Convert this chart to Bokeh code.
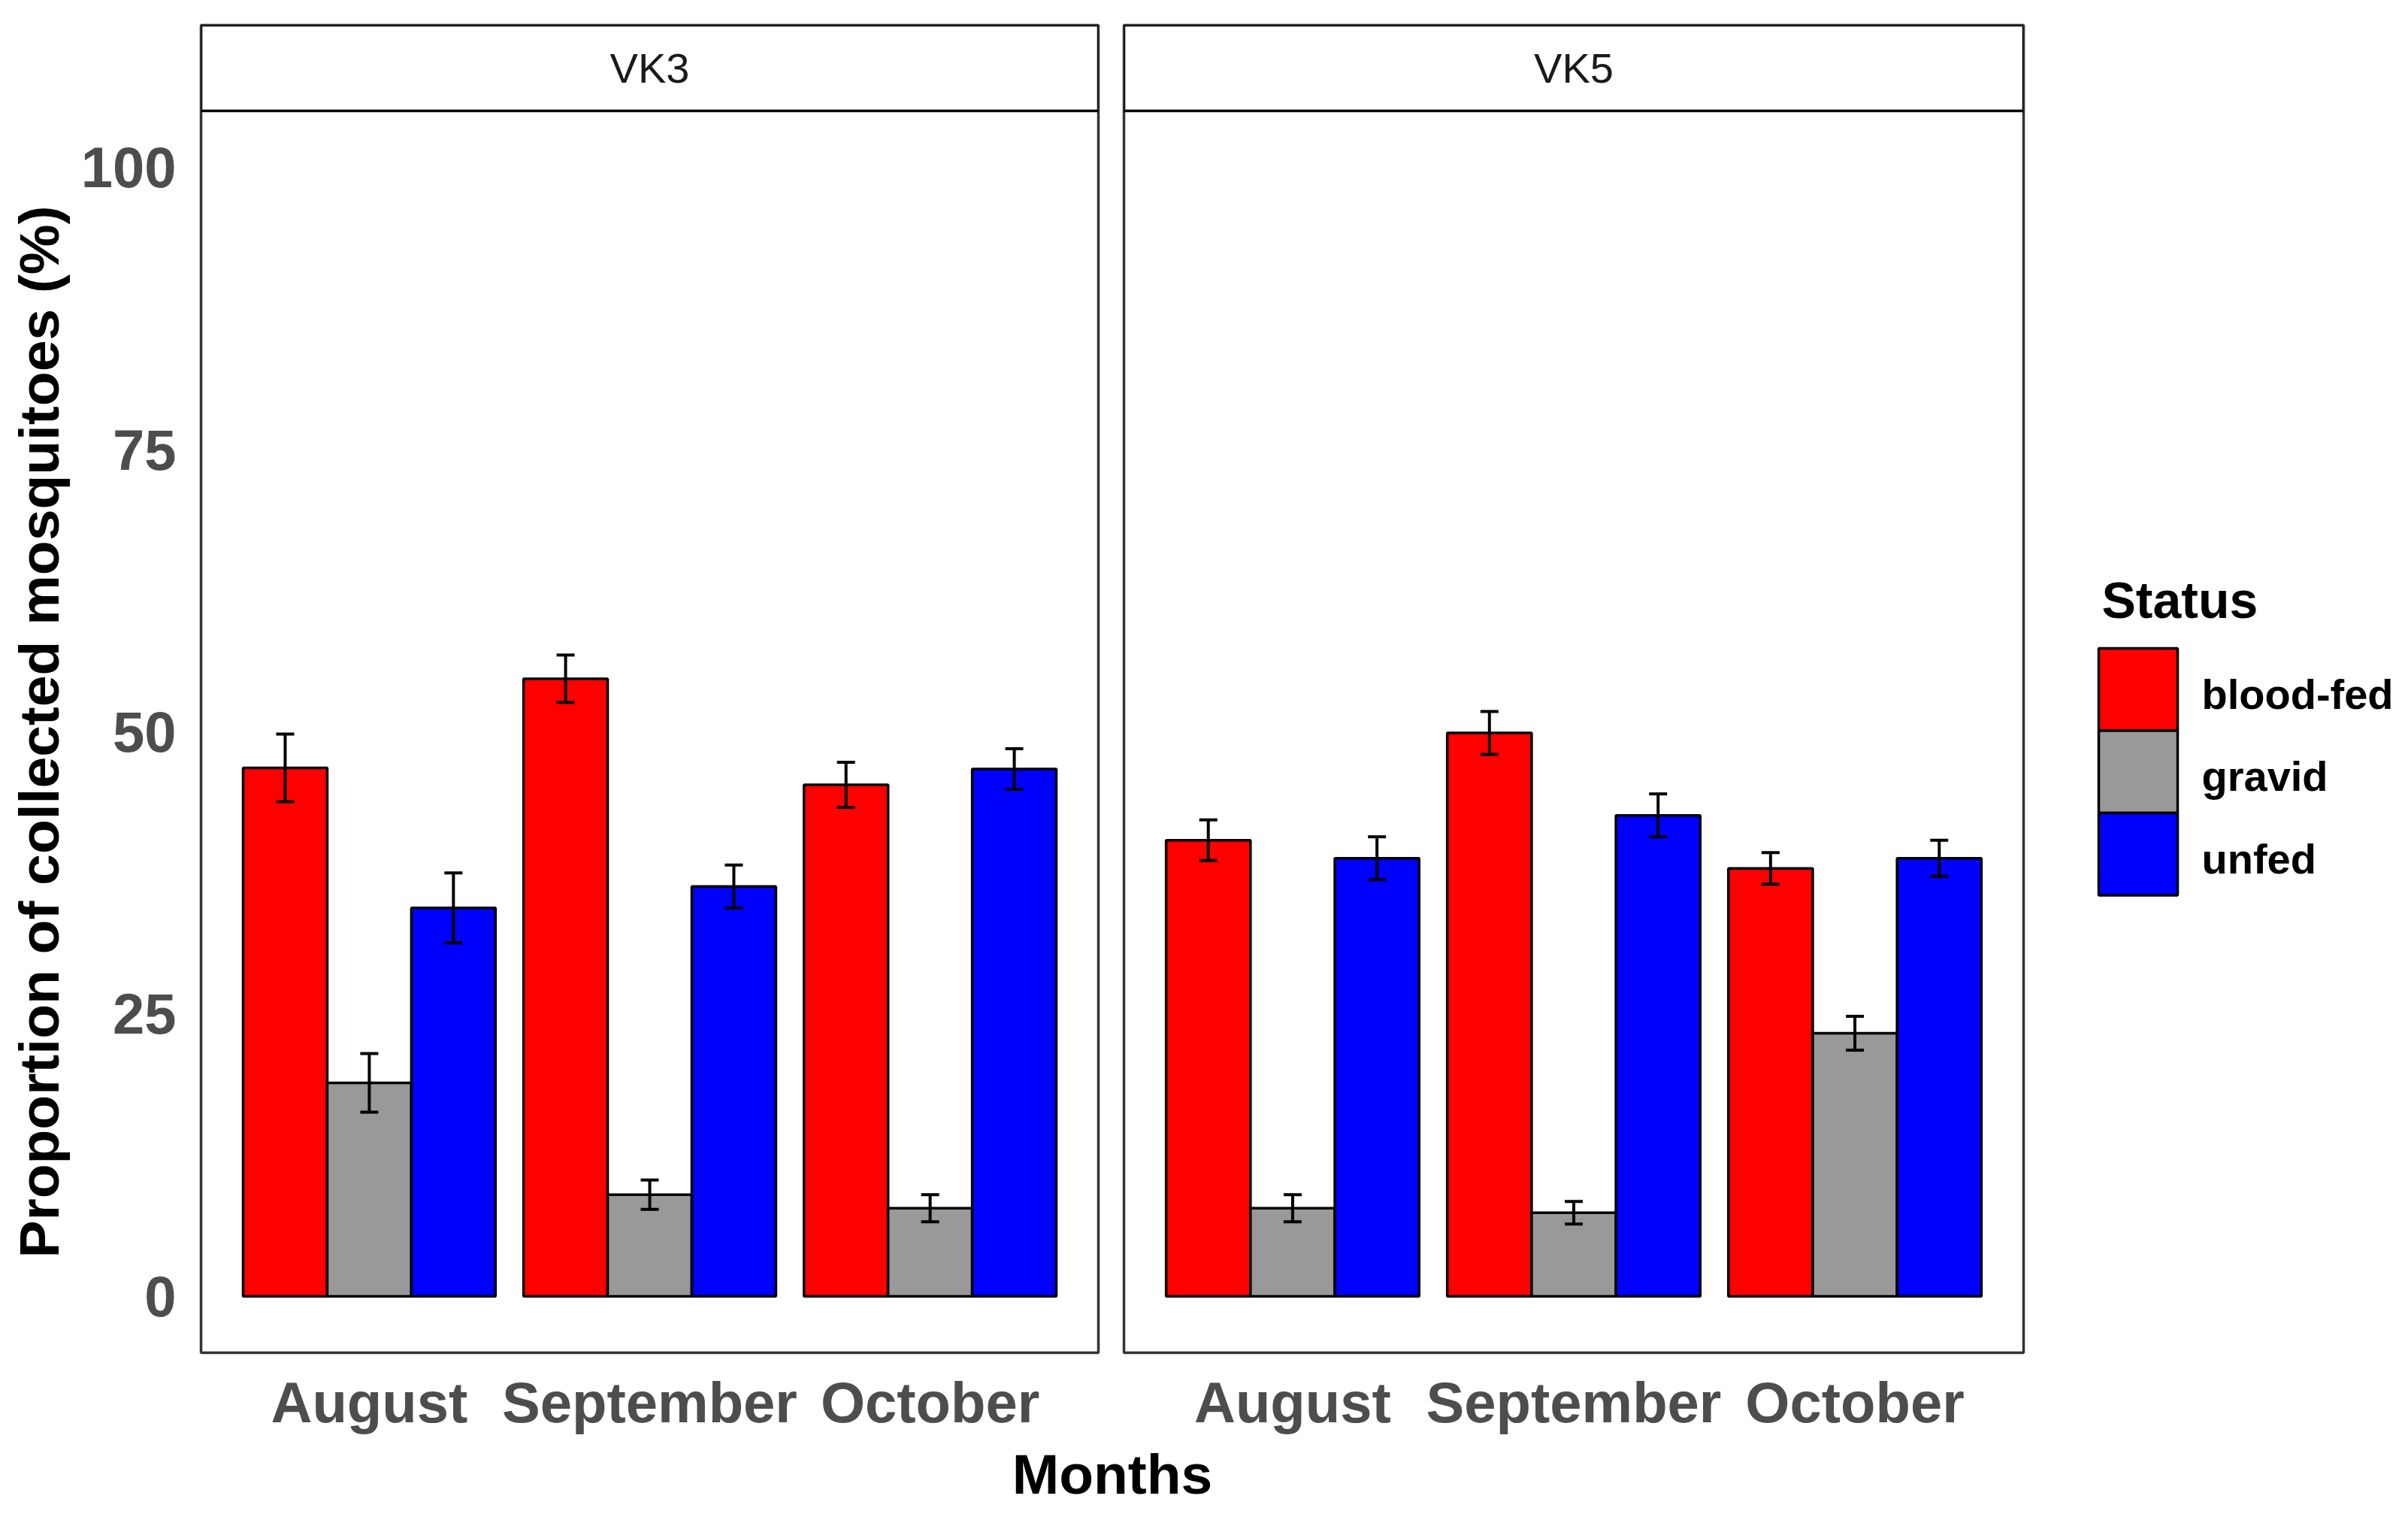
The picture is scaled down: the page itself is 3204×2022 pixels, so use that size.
import math
from bokeh.plotting import figure
from bokeh.models import (ColumnDataSource, FactorRange, Range1d, FixedTicker,
                          BoxAnnotation, Label, Whisker, TeeHead)
from bokeh.transform import dodge
from bokeh.layouts import row, column
from bokeh.embed import file_html
from bokeh.resources import INLINE
from bokeh.core.properties import value

# ---------------- data ----------------
months = ["August", "September", "October"]
statuses = ["blood-fed", "gravid", "unfed"]
sites = ["VK3", "VK5"]
status_colors = ["#FF0000", "#999999", "#0000FF"]
y_ticks = [0, 25, 50, 75, 100]

vk3_bloodfed = [46.8, 54.7, 45.3]
vk3_bloodfed_se = [3.0, 2.1, 2.0]
vk3_gravid = [18.9, 9.0, 7.8]
vk3_gravid_se = [2.6, 1.3, 1.2]
vk3_unfed = [34.4, 36.3, 46.7]
vk3_unfed_se = [3.1, 1.9, 1.8]

vk5_bloodfed = [40.4, 49.9, 37.9]
vk5_bloodfed_se = [1.8, 1.9, 1.4]
vk5_gravid = [7.8, 7.4, 23.3]
vk5_gravid_se = [1.2, 1.0, 1.5]
vk5_unfed = [38.8, 42.6, 38.8]
vk5_unfed_se = [1.9, 1.9, 1.6]

site_values = {
    "VK3": ([vk3_bloodfed, vk3_gravid, vk3_unfed], [vk3_bloodfed_se, vk3_gravid_se, vk3_unfed_se]),
    "VK5": ([vk5_bloodfed, vk5_gravid, vk5_unfed], [vk5_bloodfed_se, vk5_gravid_se, vk5_unfed_se]),
}

# ---------------- styling / layout ----------------
FONT = "Liberation Sans"
ROW_H = 1917
MB_TOP, MB_BOTTOM = 33, 118
Y_LO, Y_HI = -5, 105
STRIP_TOP = 112.59
BAR_W = 0.3
OFFSETS = [-0.3, 0.0, 0.3]
LW = 3.5


def make_panel(site, width, mb_left, mb_right, show_y):
    vals, ses = site_values[site]
    p = figure(width=width, height=ROW_H,
               x_range=FactorRange(factors=months, range_padding=0.1,
                                   range_padding_units="absolute"),
               y_range=Range1d(Y_LO, STRIP_TOP),
               y_axis_location="left" if show_y else None,
               output_backend="svg", toolbar_location=None,
               min_border_left=mb_left, min_border_right=mb_right,
               min_border_top=MB_TOP, min_border_bottom=MB_BOTTOM)
    p.xgrid.visible = False
    p.ygrid.visible = False
    p.outline_line_color = "#333333"
    p.outline_line_width = LW
    p.background_fill_color = "white"

    for vals_s, ses_s, color, off in zip(vals, ses, status_colors, OFFSETS):
        src = ColumnDataSource(dict(
            month=months, value=vals_s,
            upper=[v + s for v, s in zip(vals_s, ses_s)],
            lower=[v - s for v, s in zip(vals_s, ses_s)]))
        p.vbar(x=dodge("month", off, range=p.x_range), top="value", bottom=0,
               width=BAR_W, source=src, fill_color=color, line_color="black",
               line_width=LW)
        w = Whisker(source=src, base=dodge("month", off, range=p.x_range),
                    upper="upper", lower="lower", line_color="black", line_width=4,
                    upper_head=TeeHead(size=24, line_width=4, line_color="black"),
                    lower_head=TeeHead(size=24, line_width=4, line_color="black"),
                    level="annotation")
        p.add_layout(w)

    # facet strip
    strip = BoxAnnotation(bottom=Y_HI, top=STRIP_TOP, fill_color="white", fill_alpha=1.0,
                          line_color="black", line_alpha=1.0, line_width=LW,
                          level="overlay")
    p.add_layout(strip)
    p.add_layout(Label(x=1.5, y=(Y_HI + STRIP_TOP) / 2, text=site,
                       text_align="center", text_baseline="middle",
                       text_font=FONT, text_font_size="56px", text_color="#1A1A1A",
                       level="overlay"))

    # x axis
    p.xaxis.major_tick_line_color = None
    p.xaxis.minor_tick_line_color = None
    p.xaxis.axis_line_color = None
    p.xaxis.major_tick_out = 0
    p.xaxis.major_tick_in = 0
    p.xaxis.major_label_standoff = 23
    p.xaxis.major_label_text_font = FONT
    p.xaxis.major_label_text_font_size = "76px"
    p.xaxis.major_label_text_font_style = "bold"
    p.xaxis.major_label_text_color = "#4D4D4D"

    if show_y:
        p.yaxis.ticker = FixedTicker(ticks=y_ticks)
        p.yaxis.major_tick_line_color = None
        p.yaxis.minor_tick_line_color = None
        p.yaxis.axis_line_color = None
        p.yaxis.major_tick_out = 0
        p.yaxis.major_tick_in = 0
        p.yaxis.major_label_standoff = 33
        p.yaxis.major_label_text_font = FONT
        p.yaxis.major_label_text_font_size = "76px"
        p.yaxis.major_label_text_font_style = "bold"
        p.yaxis.major_label_text_color = "#4D4D4D"
    return p


# ---------------- y title (own narrow figure) ----------------
YL_W = 102
yl = figure(width=YL_W, height=ROW_H, x_range=Range1d(0, YL_W), y_range=Range1d(Y_LO, STRIP_TOP),
            x_axis_type=None, y_axis_type=None, output_backend="svg",
            toolbar_location=None, min_border_left=0, min_border_right=0,
            min_border_top=MB_TOP, min_border_bottom=MB_BOTTOM, outline_line_color=None)
yl.xgrid.visible = False
yl.ygrid.visible = False
yl.add_layout(Label(x=51, y=(Y_LO + Y_HI) / 2,
                    text="Proportion of collected mosquitoes (%)",
                    angle=math.pi / 2, text_align="center", text_baseline="middle",
                    text_font=FONT, text_font_size="75px", text_font_style="bold",
                    text_color="black"))

p1 = make_panel("VK3", 1478 - YL_W, 267 - YL_W, 17, True)
p2 = make_panel("VK5", 1234, 17, 20, False)

# ---------------- legend (keys drawn as adjacent boxes, one per status) ----------------
LEG_W = 484
KEY_PX = 109.5                       # pixel height of one legend key
FRAME_PX = ROW_H - MB_TOP - MB_BOTTOM
LEG_TOP = -0.5 - (862 - MB_TOP) / KEY_PX
lf = figure(width=LEG_W, height=ROW_H, x_range=Range1d(0, LEG_W),
            y_range=Range1d(LEG_TOP + FRAME_PX / KEY_PX, LEG_TOP),
            x_axis_type=None, y_axis_type=None, output_backend="svg",
            toolbar_location=None, min_border_left=0, min_border_top=MB_TOP,
            min_border_right=0, min_border_bottom=MB_BOTTOM, outline_line_color=None)
lf.xgrid.visible = False
lf.ygrid.visible = False
leg_src = ColumnDataSource(dict(idx=list(range(len(statuses))), status=statuses,
                                color=status_colors))
lf.hbar(y="idx", left=80, right=185, height=1.0, source=leg_src, fill_color="color",
        line_color="black", line_width=LW)
lf.text(x=217, y="idx", text="status", source=leg_src, text_baseline="middle",
        text_align="left", y_offset=6, text_font=value(FONT), text_font_size="56px",
        text_font_style="bold", text_color="black")
lf.add_layout(Label(x=84, y=LEG_TOP + (797 - MB_TOP) / KEY_PX, text="Status",
                    text_align="left", text_baseline="middle", text_font=FONT,
                    text_font_size="68px", text_font_style="bold", text_color="black"))

# ---------------- x title ----------------
MF_H = 105
mf = figure(width=3196, height=MF_H, x_range=Range1d(0, 3196), y_range=Range1d(0, MF_H),
            x_axis_type=None, y_axis_type=None, output_backend="svg",
            toolbar_location=None, min_border=0, outline_line_color=None)
mf.xgrid.visible = False
mf.ygrid.visible = False
mf.add_layout(Label(x=1479.5, y=62, text="Months", text_align="center",
                    text_baseline="middle", text_font=FONT, text_font_size="75px",
                    text_font_style="bold", text_color="black"))

layout = column(row(yl, p1, p2, lf), mf)
open("out.html", "w").write(file_html(layout, INLINE))
